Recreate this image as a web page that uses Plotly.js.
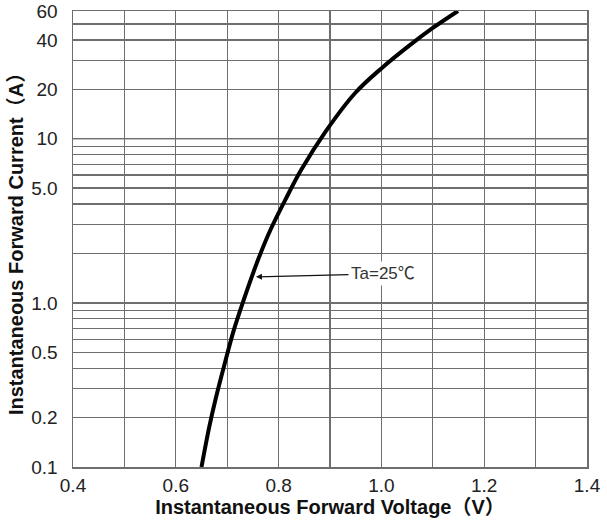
<!DOCTYPE html>
<html>
<head>
<meta charset="utf-8">
<script src="https://cdn.plot.ly/plotly-3.0.1.min.js"></script>
<style>html,body{margin:0;padding:0;background:#fff;}#chart{width:607px;height:522px;}</style>
</head>
<body>
<div id="chart"></div>
<script>
// Forward current (A) and forward voltage (V)
const currentA = [0.10, 0.175, 0.256, 0.436, 0.684, 1.04, 1.83, 2.78, 4.24, 6.46, 10.9, 19.0, 27.0, 37.3, 47.3, 60];
const voltageV = [0.650, 0.665, 0.677, 0.696, 0.713, 0.732, 0.760, 0.784, 0.813, 0.844, 0.890, 0.949, 1.001, 1.056, 1.100, 1.149];

const yTickVals = [0.1, 0.2, 0.5, 1, 5, 10, 20, 40, 60];
const yTickText = ['0.1', '0.2', '0.5', '1.0', '5.0', '10', '20', '40', '60'];
const yMinorVals = [0.3, 0.4, 0.6, 0.7, 0.8, 0.9, 2, 3, 4, 6, 7, 8, 9, 30, 50];
const yDarkLines = [1, 10, 40];
const xTickVals = [0.4, 0.6, 0.8, 1.0, 1.2, 1.4];
const xTickText = ['0.4', '0.6', '0.8', '1.0', '1.2', '1.4'];
const xMinorVals = [0.5, 0.7, 0.9, 1.1, 1.3];

const label = {text: 'Ta=25\u2103', atV: 0.754, atI: 1.44};

const gridGray = '#6e6e6e';
const fontFam = 'Arial, "Liberation Sans", "Noto Sans CJK SC", sans-serif';

const shapes = yDarkLines.map(v => ({
  type: 'line', xref: 'paper', x0: 0, x1: 1, yref: 'y', y0: v, y1: v,
  line: {color: '#111', width: 1.3}, layer: 'below'
}));

const data = [{
  x: voltageV, y: currentA, type: 'scatter', mode: 'lines',
  line: {color: '#000', width: 4, shape: 'spline', smoothing: 1},
  hoverinfo: 'x+y'
}];

const layout = {
  width: 607, height: 522,
  margin: {l: 73, r: 20, t: 11, b: 55},
  paper_bgcolor: '#fff', plot_bgcolor: '#fff',
  showlegend: false,
  font: {family: fontFam, color: '#222'},
  xaxis: {
    range: [0.4, 1.4],
    tickmode: 'array', tickvals: xTickVals, ticktext: xTickText,
    tickfont: {size: 19, color: '#222'},
    showgrid: true, gridcolor: gridGray, gridwidth: 1.3,
    minor: {tickmode: 'array', tickvals: xMinorVals, showgrid: true, gridcolor: gridGray, gridwidth: 1.3, ticks: ''},
    showline: true, linecolor: gridGray, linewidth: 1.5, mirror: true,
    zeroline: false, ticks: '',
    ticklabelstandoff: 1,
    title: {text: 'Instantaneous Forward Voltage\uFF08V\uFF09', font: {size: 20, family: fontFam, color: '#111', weight: 'bold'}, standoff: 2}
  },
  yaxis: {
    type: 'log',
    range: [Math.log10(0.1), Math.log10(60)],
    tickmode: 'array', tickvals: yTickVals, ticktext: yTickText,
    tickfont: {size: 19, color: '#222'},
    showgrid: true, gridcolor: gridGray, gridwidth: 1.3,
    minor: {tickmode: 'array', tickvals: yMinorVals, showgrid: true, gridcolor: gridGray, gridwidth: 1.3, ticks: ''},
    showline: true, linecolor: gridGray, linewidth: 1.5, mirror: true,
    zeroline: false, ticks: '',
    ticklabelstandoff: 10,
    title: {text: 'Instantaneous Forward Current\uFF08A\uFF09', font: {size: 20, family: fontFam, color: '#111', weight: 'bold'}, standoff: 2}
  },
  shapes: shapes,
  annotations: [{
    x: label.atV, y: Math.log10(label.atI), xref: 'x', yref: 'y',
    text: label.text, showarrow: true,
    ax: 128, ay: -3, axref: 'pixel', ayref: 'pixel',
    arrowhead: 2, arrowsize: 1, arrowwidth: 1.2, arrowcolor: '#111',
    standoff: 1,
    font: {size: 17, color: '#333', family: fontFam},
    bgcolor: '#fff', borderpad: 2
  }]
};

Plotly.newPlot('chart', data, layout, {displayModeBar: false, staticPlot: true});
</script>
</body>
</html>
